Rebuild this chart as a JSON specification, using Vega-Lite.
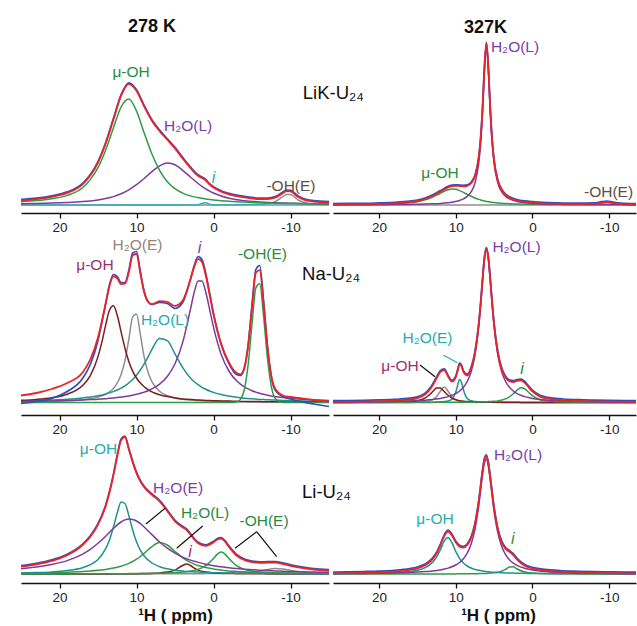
{
"$schema":"https://vega.github.io/schema/vega-lite/v6.json",
"padding":{"left":20,"top":0,"right":0,"bottom":0},
"background":"white",
"bounds":"flush",
"columns":2,
"spacing":{"row":20,"column":4},
"config":{
 "view":{"stroke":null},
 "range":{"category":["#2f9b45","#2f9b45","#7e3b9c","#2fb0c0","#8e8e8e","#1e9290","#7a1e1e","#2a8a40","#7a3fa6","#28a8b8","#5e4d45","#968379","#26adb0","#a12d6d","#111111"]},
 "axis":{"domainColor":"#111","domainWidth":1.5,"tickColor":"#111","tickWidth":1.3,"tickSize":5,"labelFontSize":13.5,"labelColor":"#222","labelFont":"Liberation Sans","labelPadding":2,"grid":false,"titleFont":"Liberation Sans","titleFontSize":17,"titleFontWeight":"bold","titleColor":"#111","titlePadding":4},
 "text":{"font":"Liberation Sans"}
},
"datasets":{
"A":[
{"x":25,"t":4.6,"green":3.3,"purple":1.3,"cyan":0,"gray":0},
{"x":23,"t":5.9,"green":4.4,"purple":1.5,"cyan":0,"gray":0},
{"x":21,"t":8.2,"green":6.3,"purple":1.9,"cyan":0,"gray":0},
{"x":19,"t":12.1,"green":9.6,"purple":2.5,"cyan":0,"gray":0},
{"x":17,"t":20.7,"green":17.3,"purple":3.4,"cyan":0,"gray":0},
{"x":16,"t":29.5,"green":25.4,"purple":4.1,"cyan":0,"gray":0},
{"x":15,"t":42.5,"green":37.4,"purple":5.1,"cyan":0,"gray":0},
{"x":14,"t":61.5,"green":55,"purple":6.5,"cyan":0,"gray":0},
{"x":13,"t":85.4,"green":77,"purple":8.4,"cyan":0,"gray":0},
{"x":12,"t":109.3,"green":98,"purple":11.3,"cyan":0,"gray":0},
{"x":11,"t":121.2,"green":106,"purple":15.2,"cyan":0,"gray":0},
{"x":10,"t":114.3,"green":94,"purple":20.3,"cyan":0,"gray":0},
{"x":9,"t":98.5,"green":72,"purple":26.5,"cyan":0,"gray":0},
{"x":8,"t":84.3,"green":51,"purple":33.3,"cyan":0,"gray":0},
{"x":7,"t":73.9,"green":34.7,"purple":39.2,"cyan":0,"gray":0},
{"x":6,"t":65.3,"green":23.3,"purple":42,"cyan":0,"gray":0},
{"x":5,"t":56.6,"green":16.4,"purple":40.2,"cyan":0,"gray":0},
{"x":4,"t":46.6,"green":11.9,"purple":34.7,"cyan":0,"gray":0},
{"x":3,"t":37.1,"green":9.1,"purple":28,"cyan":0,"gray":0},
{"x":2,"t":29.2,"green":7.4,"purple":21.5,"cyan":0.3,"gray":0},
{"x":1.5,"t":27,"green":6.7,"purple":18.7,"cyan":1.6,"gray":0},
{"x":1,"t":24.5,"green":6,"purple":16.2,"cyan":2.3,"gray":0},
{"x":0.5,"t":20.3,"green":5.5,"purple":13.9,"cyan":0.8,"gray":0.1},
{"x":0,"t":17.4,"green":5.1,"purple":12,"cyan":0.2,"gray":0.1},
{"x":-1,"t":13.3,"green":4.3,"purple":9,"cyan":0,"gray":0.1},
{"x":-2,"t":10.7,"green":3.7,"purple":6.8,"cyan":0,"gray":0.2},
{"x":-4,"t":7.6,"green":2.9,"purple":4.3,"cyan":0,"gray":0.4},
{"x":-6,"t":5.9,"green":2.2,"purple":3,"cyan":0,"gray":0.7},
{"x":-7,"t":6,"green":2,"purple":2.6,"cyan":0,"gray":1.4},
{"x":-8,"t":7.4,"green":1.8,"purple":2.2,"cyan":0,"gray":3.4},
{"x":-9,"t":11.9,"green":1.6,"purple":2,"cyan":0,"gray":8.3},
{"x":-9.5,"t":14,"green":1.6,"purple":1.9,"cyan":0,"gray":10.6},
{"x":-10,"t":13.6,"green":1.5,"purple":1.7,"cyan":0,"gray":10.4},
{"x":-11,"t":8,"green":1.4,"purple":1.6,"cyan":0,"gray":5},
{"x":-12,"t":4.6,"green":1.3,"purple":1.4,"cyan":0,"gray":1.9},
{"x":-13,"t":3.4,"green":1.2,"purple":1.3,"cyan":0,"gray":0.9},
{"x":-15,"t":2.4,"green":1,"purple":1,"cyan":0,"gray":0.4}
],
"B":[
{"x":26,"t":0.4,"green":0.3,"purple":0.1,"gray":0},
{"x":24,"t":0.6,"green":0.4,"purple":0.2,"gray":0},
{"x":22,"t":0.7,"green":0.5,"purple":0.2,"gray":0},
{"x":20,"t":1.1,"green":0.8,"purple":0.3,"gray":0},
{"x":18,"t":1.6,"green":1.2,"purple":0.4,"gray":0},
{"x":16,"t":2.8,"green":2.2,"purple":0.6,"gray":0},
{"x":15,"t":4,"green":3.3,"purple":0.7,"gray":0},
{"x":14,"t":6,"green":5.1,"purple":0.9,"gray":0},
{"x":13,"t":9.2,"green":8,"purple":1.2,"gray":0},
{"x":12,"t":13.4,"green":11.8,"purple":1.6,"gray":0},
{"x":11,"t":17.6,"green":15.3,"purple":2.3,"gray":0},
{"x":10.5,"t":18.8,"green":16,"purple":2.8,"gray":0},
{"x":10,"t":19.2,"green":15.7,"purple":3.5,"gray":0},
{"x":9.5,"t":18.9,"green":14.4,"purple":4.5,"gray":0},
{"x":9,"t":18.7,"green":12.6,"purple":6.1,"gray":0},
{"x":8.5,"t":19.2,"green":10.6,"purple":8.6,"gray":0},
{"x":8,"t":21.8,"green":8.7,"purple":13.1,"gray":0},
{"x":7.5,"t":28.8,"green":7,"purple":21.8,"gray":0},
{"x":7,"t":47.4,"green":5.6,"purple":41.8,"gray":0},
{"x":6.75,"t":66.7,"green":5,"purple":61.7,"gray":0},
{"x":6.5,"t":97.7,"green":4.5,"purple":93.2,"gray":0},
{"x":6.25,"t":138.6,"green":4,"purple":134.6,"gray":0},
{"x":6,"t":161.6,"green":3.6,"purple":158,"gray":0},
{"x":5.75,"t":137.8,"green":3.2,"purple":134.6,"gray":0},
{"x":5.5,"t":96.1,"green":2.9,"purple":93.2,"gray":0},
{"x":5.25,"t":64.3,"green":2.6,"purple":61.7,"gray":0},
{"x":5,"t":44.2,"green":2.4,"purple":41.8,"gray":0},
{"x":4.5,"t":23.8,"green":2,"purple":21.8,"gray":0},
{"x":4,"t":14.8,"green":1.7,"purple":13.1,"gray":0},
{"x":3.5,"t":10,"green":1.4,"purple":8.6,"gray":0},
{"x":3,"t":7.3,"green":1.2,"purple":6.1,"gray":0},
{"x":2,"t":4.5,"green":1,"purple":3.5,"gray":0},
{"x":1,"t":3.1,"green":0.8,"purple":2.3,"gray":0},
{"x":0,"t":2.3,"green":0.7,"purple":1.6,"gray":0},
{"x":-2,"t":1.4,"green":0.5,"purple":0.9,"gray":0},
{"x":-4,"t":0.9,"green":0.4,"purple":0.6,"gray":0},
{"x":-6,"t":0.8,"green":0.3,"purple":0.4,"gray":0.15},
{"x":-8,"t":1.1,"green":0.2,"purple":0.3,"gray":0.6},
{"x":-9,"t":2.3,"green":0.2,"purple":0.3,"gray":1.8},
{"x":-9.7,"t":2.9,"green":0.2,"purple":0.2,"gray":2.5},
{"x":-10.5,"t":2,"green":0.2,"purple":0.2,"gray":1.6},
{"x":-12,"t":0.7,"green":0.2,"purple":0.2,"gray":0.4},
{"x":-14,"t":0.3,"green":0.1,"purple":0.1,"gray":0}
],
"C":[
{"x":25,"t":7,"b":-1,"maroon":2.2,"gray":0.6,"teal":1.5,"purple":1.1,"green":0},
{"x":23,"t":9.5,"b":1,"maroon":3.1,"gray":0.8,"teal":1.9,"purple":1.3,"green":0},
{"x":21,"t":13.5,"b":4,"maroon":4.8,"gray":1.1,"teal":2.5,"purple":1.6,"green":0},
{"x":19,"t":19.5,"b":11,"maroon":8.3,"gray":1.7,"teal":3.3,"purple":2,"green":0},
{"x":17,"t":30,"b":24,"maroon":17,"gray":2.8,"teal":4.6,"purple":2.5,"green":0},
{"x":16,"t":43,"b":38,"maroon":26.9,"gray":3.7,"teal":5.5,"purple":2.9,"green":0},
{"x":15,"t":65,"b":62,"maroon":45.9,"gray":5.4,"teal":6.8,"purple":3.3,"green":0},
{"x":14.5,"t":81,"b":80,"maroon":60.4,"gray":6.6,"teal":7.6,"purple":3.6,"green":0},
{"x":14,"t":99,"b":99,"maroon":77.6,"gray":8.3,"teal":8.5,"purple":3.8,"green":0},
{"x":13.5,"t":117,"b":118,"maroon":92.5,"gray":10.6,"teal":9.6,"purple":4.2,"green":0},
{"x":13,"t":126.2,"b":128,"maroon":96.7,"gray":14.1,"teal":10.9,"purple":4.5,"green":0},
{"x":12.5,"t":124.2,"b":126,"maroon":87.3,"gray":19.5,"teal":12.5,"purple":4.9,"green":0},
{"x":12,"t":118.4,"b":120,"maroon":70.6,"gray":28,"teal":14.4,"purple":5.4,"green":0},
{"x":11.5,"t":118.8,"b":120,"maroon":54.2,"gray":41.9,"teal":16.7,"purple":6,"green":0},
{"x":11,"t":130.2,"b":132,"maroon":41.1,"gray":63,"teal":19.5,"purple":6.6,"green":0},
{"x":10.5,"t":147.3,"b":149.5,"maroon":31.4,"gray":85.6,"teal":23,"purple":7.3,"green":0},
{"x":10,"t":148.5,"b":151,"maroon":24.5,"gray":88.5,"teal":27.3,"purple":8.2,"green":0},
{"x":9.5,"t":129,"b":131,"maroon":19.4,"gray":67.9,"teal":32.5,"purple":9.2,"green":0},
{"x":9,"t":110.3,"b":111,"maroon":15.7,"gray":45.5,"teal":38.7,"purple":10.4,"green":0},
{"x":8.5,"t":100.7,"b":101,"maroon":12.9,"gray":30.3,"teal":45.7,"purple":11.8,"green":0},
{"x":8,"t":98.3,"b":98,"maroon":10.7,"gray":20.9,"teal":53.1,"purple":13.6,"green":0},
{"x":7,"t":101.4,"b":100,"maroon":7.8,"gray":11.2,"teal":64,"purple":18.4,"green":0},
{"x":6,"t":100.6,"b":99,"maroon":5.9,"gray":6.9,"teal":61.8,"purple":26,"green":0},
{"x":5,"t":96.6,"b":94,"maroon":4.6,"gray":4.6,"teal":48.7,"purple":38.7,"green":0},
{"x":4,"t":101.9,"b":100,"maroon":3.6,"gray":3.3,"teal":34.9,"purple":60.1,"green":0},
{"x":3,"t":123.1,"b":123,"maroon":3,"gray":2.5,"teal":24.6,"purple":93,"green":0},
{"x":2.5,"t":135.9,"b":137,"maroon":2.7,"gray":2.2,"teal":20.8,"purple":110.2,"green":0},
{"x":2,"t":143.6,"b":146,"maroon":2.5,"gray":1.9,"teal":17.8,"purple":121.4,"green":0},
{"x":1.5,"t":140.6,"b":143,"maroon":2.3,"gray":1.7,"teal":15.2,"purple":121.4,"green":0},
{"x":1,"t":127,"b":129,"maroon":2.1,"gray":1.5,"teal":13.2,"purple":110.2,"green":0},
{"x":0.5,"t":107.8,"b":109,"maroon":1.9,"gray":1.4,"teal":11.5,"purple":93,"green":0},
{"x":0,"t":88.4,"b":89,"maroon":1.8,"gray":1.2,"teal":10.1,"purple":75.3,"green":0},
{"x":-1,"t":58.5,"b":58,"maroon":1.6,"gray":1,"teal":7.9,"purple":48,"green":0},
{"x":-2,"t":40.1,"b":39,"maroon":1.4,"gray":0.9,"teal":6.4,"purple":31.5,"green":0},
{"x":-3,"t":29.4,"b":28,"maroon":1.2,"gray":0.8,"teal":5.2,"purple":21.7,"green":0.5},
{"x":-3.5,"t":28.1,"b":27,"maroon":1.1,"gray":0.7,"teal":4.8,"purple":18.4,"green":3.1},
{"x":-4,"t":34.7,"b":34,"maroon":1.1,"gray":0.7,"teal":4.3,"purple":15.7,"green":12.9},
{"x":-4.5,"t":57,"b":57,"maroon":1,"gray":0.6,"teal":4,"purple":13.6,"green":37.8},
{"x":-5,"t":95.3,"b":97,"maroon":1,"gray":0.6,"teal":3.7,"purple":11.8,"green":78.3},
{"x":-5.5,"t":129.8,"b":133,"maroon":0.9,"gray":0.5,"teal":3.4,"purple":10.4,"green":114.6},
{"x":-6,"t":132.4,"b":137,"maroon":0.9,"gray":0.5,"teal":3.1,"purple":9.2,"green":118.7},
{"x":-6.5,"t":99.2,"b":102,"maroon":0.8,"gray":0.5,"teal":2.9,"purple":8.2,"green":86.8},
{"x":-7,"t":56.2,"b":57,"maroon":0.8,"gray":0.4,"teal":2.7,"purple":7.3,"green":45},
{"x":-7.5,"t":26.8,"b":26,"maroon":0.7,"gray":0.4,"teal":2.5,"purple":6.6,"green":16.5},
{"x":-8,"t":13.7,"b":12.5,"maroon":0.7,"gray":0.4,"teal":2.4,"purple":6,"green":4.3},
{"x":-9,"t":7,"b":6,"maroon":0.6,"gray":0.4,"teal":2.1,"purple":4.9,"green":0.1},
{"x":-10,"t":5.5,"b":3.5,"maroon":0.6,"gray":0.3,"teal":1.9,"purple":4.2,"green":0},
{"x":-11,"t":4.5,"b":1.5,"maroon":0.5,"gray":0.3,"teal":1.7,"purple":3.6,"green":0},
{"x":-13,"t":2.5,"b":-1.5,"maroon":0.5,"gray":0.2,"teal":1.3,"purple":2.7,"green":0},
{"x":-15,"t":1,"b":-4,"maroon":0.4,"gray":0.2,"teal":1.1,"purple":2.1,"green":0}
],
"D":[
{"x":26,"t":0.6,"purple":0.4,"teal":0,"gray":0.1,"maroon":0.1,"green":0},
{"x":24,"t":0.7,"purple":0.5,"teal":0,"gray":0.1,"maroon":0.1,"green":0},
{"x":22,"t":0.9,"purple":0.6,"teal":0.1,"gray":0.1,"maroon":0.2,"green":0},
{"x":20,"t":1.3,"purple":0.8,"teal":0.1,"gray":0.1,"maroon":0.3,"green":0.1},
{"x":18,"t":1.8,"purple":1.1,"teal":0.1,"gray":0.2,"maroon":0.4,"green":0.1},
{"x":16,"t":3,"purple":1.5,"teal":0.1,"gray":0.3,"maroon":1,"green":0.1},
{"x":15,"t":4.4,"purple":1.9,"teal":0.2,"gray":0.5,"maroon":1.8,"green":0.1},
{"x":14,"t":8,"purple":2.3,"teal":0.2,"gray":1,"maroon":4.4,"green":0.1},
{"x":13.5,"t":11.8,"purple":2.7,"teal":0.3,"gray":1.6,"maroon":7.2,"green":0.1},
{"x":13,"t":17.3,"purple":3,"teal":0.3,"gray":2.8,"maroon":11,"green":0.1},
{"x":12.5,"t":24.3,"purple":3.5,"teal":0.4,"gray":5.8,"maroon":14.4,"green":0.2},
{"x":12,"t":30.6,"purple":4.1,"teal":0.6,"gray":11.3,"maroon":14.4,"green":0.2},
{"x":11.5,"t":32.4,"purple":4.9,"teal":0.9,"gray":15.5,"maroon":11,"green":0.2},
{"x":11,"t":26,"purple":5.9,"teal":1.5,"gray":11.3,"maroon":7.2,"green":0.2},
{"x":10.5,"t":20.8,"purple":7.2,"teal":3.3,"gray":5.8,"maroon":4.4,"green":0.2},
{"x":10,"t":25,"purple":8.9,"teal":10.3,"gray":2.8,"maroon":2.7,"green":0.2},
{"x":9.75,"t":31.8,"purple":10.1,"teal":17.2,"gray":2,"maroon":2.2,"green":0.3},
{"x":9.5,"t":38.1,"purple":11.5,"teal":23,"gray":1.6,"maroon":1.8,"green":0.3},
{"x":9.25,"t":36.3,"purple":13.2,"teal":20.1,"gray":1.2,"maroon":1.5,"green":0.3},
{"x":9,"t":30.6,"purple":15.2,"teal":12.8,"gray":1,"maroon":1.3,"green":0.3},
{"x":8.5,"t":27,"purple":21,"teal":4,"gray":0.7,"maroon":1,"green":0.3},
{"x":8,"t":33.8,"purple":30.4,"teal":1.7,"gray":0.5,"maroon":0.8,"green":0.4},
{"x":7.5,"t":49.3,"purple":46.8,"teal":1,"gray":0.4,"maroon":0.6,"green":0.5},
{"x":7,"t":78,"purple":76,"teal":0.6,"gray":0.3,"maroon":0.5,"green":0.5},
{"x":6.75,"t":99.2,"purple":97.3,"teal":0.6,"gray":0.3,"maroon":0.5,"green":0.6},
{"x":6.5,"t":123.4,"purple":121.6,"teal":0.5,"gray":0.3,"maroon":0.5,"green":0.7},
{"x":6.25,"t":144.9,"purple":143.1,"teal":0.4,"gray":0.2,"maroon":0.4,"green":0.7},
{"x":6,"t":153.7,"purple":152,"teal":0.3,"gray":0.2,"maroon":0.4,"green":0.8},
{"x":5.75,"t":144.8,"purple":143.1,"teal":0.3,"gray":0.2,"maroon":0.4,"green":0.9},
{"x":5.5,"t":123.3,"purple":121.6,"teal":0.3,"gray":0.2,"maroon":0.3,"green":1},
{"x":5.25,"t":99.1,"purple":97.3,"teal":0.2,"gray":0.2,"maroon":0.3,"green":1.1},
{"x":5,"t":77.9,"purple":76,"teal":0.2,"gray":0.2,"maroon":0.3,"green":1.2},
{"x":4.5,"t":49,"purple":46.8,"teal":0.2,"gray":0.1,"maroon":0.3,"green":1.6},
{"x":4,"t":33.2,"purple":30.4,"teal":0.1,"gray":0.1,"maroon":0.2,"green":2.4},
{"x":3.5,"t":25,"purple":21,"teal":0.1,"gray":0.1,"maroon":0.2,"green":3.6},
{"x":3,"t":21.3,"purple":15.2,"teal":0.1,"gray":0.1,"maroon":0.2,"green":5.7},
{"x":2.5,"t":20.5,"purple":11.5,"teal":0.1,"gray":0.1,"maroon":0.2,"green":8.7},
{"x":2,"t":21.6,"purple":8.9,"teal":0.1,"gray":0.1,"maroon":0.2,"green":12.4},
{"x":1.5,"t":22.1,"purple":7.2,"teal":0.1,"gray":0.1,"maroon":0.1,"green":14.7},
{"x":1,"t":19.7,"purple":5.9,"teal":0.1,"gray":0.1,"maroon":0.1,"green":13.6},
{"x":0.5,"t":15.3,"purple":4.9,"teal":0.1,"gray":0.1,"maroon":0.1,"green":10.2},
{"x":0,"t":11.1,"purple":4.1,"teal":0.1,"gray":0.1,"maroon":0.1,"green":6.8},
{"x":-1,"t":5.9,"purple":3,"teal":0,"gray":0,"maroon":0.1,"green":2.7},
{"x":-2,"t":3.9,"purple":2.3,"teal":0,"gray":0,"maroon":0.1,"green":1.4},
{"x":-3,"t":2.8,"purple":1.9,"teal":0,"gray":0,"maroon":0.1,"green":0.8},
{"x":-4,"t":2.2,"purple":1.5,"teal":0,"gray":0,"maroon":0.1,"green":0.6},
{"x":-6,"t":1.5,"purple":1.1,"teal":0,"gray":0,"maroon":0.1,"green":0.3},
{"x":-8,"t":1.1,"purple":0.8,"teal":0,"gray":0,"maroon":0.1,"green":0.2},
{"x":-10,"t":0.8,"purple":0.6,"teal":0,"gray":0,"maroon":0,"green":0.1},
{"x":-12,"t":0.6,"purple":0.5,"teal":0,"gray":0,"maroon":0,"green":0.1},
{"x":-14,"t":0.5,"purple":0.4,"teal":0,"gray":0,"maroon":0,"green":0.1}
],
"E":[
{"x":25,"t":7.3,"teal":1.1,"purple":5.3,"green":0.8,"maroon":0,"green2":0.1,"gray":0},
{"x":23,"t":9.6,"teal":1.5,"purple":6.9,"green":1,"maroon":0,"green2":0.1,"gray":0},
{"x":21,"t":13.1,"teal":2.1,"purple":9.5,"green":1.3,"maroon":0.1,"green2":0.1,"gray":0},
{"x":19,"t":18.8,"teal":3.4,"purple":13.4,"green":1.8,"maroon":0.1,"green2":0.1,"gray":0.1},
{"x":17,"t":29,"teal":6.3,"purple":19.9,"green":2.5,"maroon":0.1,"green2":0.2,"gray":0.1},
{"x":16,"t":37.3,"teal":9.3,"purple":24.7,"green":3,"maroon":0.1,"green2":0.2,"gray":0.1},
{"x":15,"t":49.3,"teal":14.6,"purple":30.7,"green":3.7,"maroon":0.1,"green2":0.2,"gray":0.1},
{"x":14,"t":68.1,"teal":25.3,"purple":37.8,"green":4.6,"maroon":0.1,"green2":0.2,"gray":0.1},
{"x":13.5,"t":81.7,"teal":34.3,"purple":41.7,"green":5.2,"maroon":0.1,"green2":0.2,"gray":0.1},
{"x":13,"t":98.6,"teal":46.7,"purple":45.5,"green":5.9,"maroon":0.2,"green2":0.3,"gray":0.1},
{"x":12.5,"t":117.7,"teal":61.3,"purple":49.1,"green":6.8,"maroon":0.2,"green2":0.3,"gray":0.1},
{"x":12,"t":134,"teal":71.9,"purple":52,"green":7.8,"maroon":0.2,"green2":0.3,"gray":0.1},
{"x":11.5,"t":137,"teal":70.5,"purple":54.1,"green":9.1,"maroon":0.2,"green2":0.3,"gray":0.1},
{"x":11,"t":124.7,"teal":58.4,"purple":55,"green":10.6,"maroon":0.3,"green2":0.4,"gray":0.1},
{"x":10.5,"t":111.9,"teal":44,"purple":54.6,"green":12.5,"maroon":0.3,"green2":0.4,"gray":0.1},
{"x":10,"t":100.9,"teal":32.2,"purple":53,"green":14.8,"maroon":0.3,"green2":0.4,"gray":0.1},
{"x":9.5,"t":92.6,"teal":23.8,"purple":50.3,"green":17.5,"maroon":0.4,"green2":0.5,"gray":0.1},
{"x":9,"t":86.7,"teal":18,"purple":47,"green":20.6,"maroon":0.5,"green2":0.5,"gray":0.1},
{"x":8,"t":79.2,"teal":11,"purple":39.4,"green":27.4,"maroon":0.7,"green2":0.6,"gray":0.1},
{"x":7,"t":72.7,"teal":7.3,"purple":32,"green":31.4,"maroon":1.1,"green2":0.8,"gray":0.2},
{"x":6,"t":63,"teal":5.2,"purple":25.8,"green":29,"maroon":1.9,"green2":1,"gray":0.2},
{"x":5,"t":52.6,"teal":3.8,"purple":20.8,"green":22.5,"maroon":3.9,"green2":1.4,"gray":0.2},
{"x":4,"t":46.7,"teal":3,"purple":16.9,"green":16.2,"maroon":8.5,"green2":1.9,"gray":0.2},
{"x":3.5,"t":44.2,"teal":2.6,"purple":15.3,"green":13.7,"maroon":10,"green2":2.3,"gray":0.2},
{"x":3,"t":39.5,"teal":2.3,"purple":13.9,"green":11.6,"maroon":8.5,"green2":2.9,"gray":0.3},
{"x":2.5,"t":34.5,"teal":2.1,"purple":12.7,"green":9.9,"maroon":5.9,"green2":3.6,"gray":0.3},
{"x":2,"t":30.8,"teal":1.9,"purple":11.6,"green":8.5,"maroon":3.9,"green2":4.6,"gray":0.3},
{"x":1,"t":28.2,"teal":1.6,"purple":9.8,"green":6.4,"maroon":1.9,"green2":8.3,"gray":0.4},
{"x":0,"t":31.6,"teal":1.3,"purple":8.3,"green":4.9,"maroon":1.1,"green2":15.5,"gray":0.5},
{"x":-0.5,"t":34.5,"teal":1.2,"purple":7.7,"green":4.4,"maroon":0.8,"green2":19.9,"gray":0.5},
{"x":-1,"t":35.4,"teal":1.1,"purple":7.2,"green":3.9,"maroon":0.7,"green2":22,"gray":0.6},
{"x":-1.5,"t":32.3,"teal":1,"purple":6.7,"green":3.5,"maroon":0.5,"green2":19.9,"gray":0.7},
{"x":-2,"t":27.1,"teal":1,"purple":6.2,"green":3.1,"maroon":0.5,"green2":15.5,"gray":0.8},
{"x":-3,"t":18.5,"teal":0.8,"purple":5.4,"green":2.6,"maroon":0.3,"green2":8.3,"gray":1},
{"x":-4,"t":14,"teal":0.7,"purple":4.8,"green":2.2,"maroon":0.3,"green2":4.6,"gray":1.4},
{"x":-5,"t":11.9,"teal":0.7,"purple":4.3,"green":1.8,"maroon":0.2,"green2":2.9,"gray":2.1},
{"x":-6,"t":11.1,"teal":0.6,"purple":3.8,"green":1.6,"maroon":0.2,"green2":1.9,"gray":3.1},
{"x":-7,"t":11.3,"teal":0.5,"purple":3.4,"green":1.4,"maroon":0.1,"green2":1.4,"gray":4.5},
{"x":-8,"t":11.4,"teal":0.5,"purple":3.1,"green":1.2,"maroon":0.1,"green2":1,"gray":5.5},
{"x":-9,"t":10.2,"teal":0.4,"purple":2.8,"green":1.1,"maroon":0.1,"green2":0.8,"gray":5},
{"x":-10,"t":8.2,"teal":0.4,"purple":2.5,"green":0.9,"maroon":0.1,"green2":0.6,"gray":3.6},
{"x":-11,"t":6.6,"teal":0.4,"purple":2.3,"green":0.8,"maroon":0.1,"green2":0.5,"gray":2.4},
{"x":-12,"t":5.4,"teal":0.3,"purple":2.1,"green":0.8,"maroon":0.1,"green2":0.4,"gray":1.7},
{"x":-13,"t":4.5,"teal":0.3,"purple":2,"green":0.7,"maroon":0.1,"green2":0.4,"gray":1.2},
{"x":-15,"t":3.5,"teal":0.3,"purple":1.7,"green":0.6,"maroon":0,"green2":0.3,"gray":0.7}
],
"F":[
{"x":26,"t":0.7,"purple":0.4,"teal":0.3,"green":0},
{"x":24,"t":0.9,"purple":0.5,"teal":0.4,"green":0},
{"x":22,"t":1.2,"purple":0.6,"teal":0.6,"green":0},
{"x":20,"t":1.6,"purple":0.8,"teal":0.8,"green":0},
{"x":18,"t":2.4,"purple":1.1,"teal":1.3,"green":0},
{"x":16,"t":4.1,"purple":1.5,"teal":2.5,"green":0},
{"x":15,"t":5.7,"purple":1.9,"teal":3.8,"green":0.1},
{"x":14,"t":8.7,"purple":2.4,"teal":6.3,"green":0.1},
{"x":13,"t":14.9,"purple":3.1,"teal":11.8,"green":0.1},
{"x":12.5,"t":20.5,"purple":3.5,"teal":16.9,"green":0.1},
{"x":12,"t":28.6,"purple":4.1,"teal":24.4,"green":0.1},
{"x":11.5,"t":37.9,"purple":4.9,"teal":32.9,"green":0.1},
{"x":11,"t":42.5,"purple":5.9,"teal":36.5,"green":0.1},
{"x":10.5,"t":38.6,"purple":7.2,"teal":31.3,"green":0.1},
{"x":10,"t":31.8,"purple":9,"teal":22.7,"green":0.1},
{"x":9.5,"t":27.4,"purple":11.5,"teal":15.7,"green":0.2},
{"x":9,"t":26.4,"purple":15.2,"teal":11,"green":0.2},
{"x":8.5,"t":29,"purple":20.8,"teal":8,"green":0.2},
{"x":8,"t":35.9,"purple":29.7,"teal":6,"green":0.3},
{"x":7.5,"t":49.3,"purple":44.4,"teal":4.6,"green":0.3},
{"x":7,"t":72.4,"purple":68.4,"teal":3.7,"green":0.4},
{"x":6.5,"t":103.1,"purple":99.7,"teal":3,"green":0.5},
{"x":6.25,"t":114.8,"purple":111.6,"teal":2.7,"green":0.6},
{"x":6,"t":117.9,"purple":114.8,"teal":2.4,"green":0.6},
{"x":5.75,"t":110.6,"purple":107.7,"teal":2.2,"green":0.7},
{"x":5.5,"t":96.5,"purple":93.6,"teal":2,"green":0.9},
{"x":5,"t":65.6,"purple":62.7,"teal":1.7,"green":1.2},
{"x":4.5,"t":44.1,"purple":40.8,"teal":1.5,"green":1.8},
{"x":4,"t":31.6,"purple":27.5,"teal":1.3,"green":2.8},
{"x":3.5,"t":25.1,"purple":19.4,"teal":1.1,"green":4.6},
{"x":3,"t":22.2,"purple":14.3,"teal":1,"green":6.9},
{"x":2.5,"t":19,"purple":10.9,"teal":0.9,"green":7.2},
{"x":2,"t":14.4,"purple":8.6,"teal":0.8,"green":5},
{"x":1,"t":8.3,"purple":5.7,"teal":0.7,"green":1.9},
{"x":0,"t":5.4,"purple":4,"teal":0.5,"green":0.9},
{"x":-2,"t":3,"purple":2.3,"teal":0.4,"green":0.3},
{"x":-4,"t":1.9,"purple":1.5,"teal":0.3,"green":0.2},
{"x":-6,"t":1.4,"purple":1,"teal":0.2,"green":0.1},
{"x":-8,"t":1,"purple":0.8,"teal":0.2,"green":0.1},
{"x":-10,"t":0.8,"purple":0.6,"teal":0.2,"green":0},
{"x":-12,"t":0.6,"purple":0.5,"teal":0.1,"green":0},
{"x":-14,"t":0.5,"purple":0.4,"teal":0.1,"green":0}
]
},
"concat":[
{"width":308,"height":213,"data":{"name":"A"},
 "encoding":{"x":{"field":"x","type":"quantitative","scale":{"domain":[25,-15],"nice":false,"zero":false},"axis":{"values":[20,10,0,-10],"labelExpr":"''+datum.value","title":null}}},
 "layer":[
  {"mark":{"type":"rule","color":"#a5a5a5","strokeWidth":1},"encoding":{"y":{"datum":0,"type":"quantitative","scale":{"domain":[-8,205]},"axis":null}}},
  {"transform":[{"fold":["gray","cyan","purple","green"],"as":["s","v"]},{"filter":"isValid(datum.v)"}],"mark":{"type":"line","interpolate":"monotone","clip":true,"strokeWidth":1.5},"encoding":{"y":{"field":"v","type":"quantitative","scale":{"domain":[-8,205]},"axis":null},"color":{"field":"s","type":"nominal","scale":{"domain":["green","green2","purple","cyan","gray","teal","maroon","tGreen","tPurple","tCyan","tBrown","tTan","tTeal","tMagenta","black"]},"legend":null}}},
  {"mark":{"type":"line","interpolate":"monotone","clip":true,"strokeWidth":1.7,"color":"#2e4fbf","yOffset":-1},"encoding":{"y":{"field":"t","type":"quantitative","scale":{"domain":[-8,205]},"axis":null}}},
  {"mark":{"type":"line","interpolate":"monotone","clip":true,"strokeWidth":1.8,"color":"#ec2227"},"encoding":{"y":{"field":"t","type":"quantitative","scale":{"domain":[-8,205]},"axis":null}}},
  {"data":{"values":[{"x":10.7,"y":133,"t":"μ-OH","c":"tGreen"},{"x":3.3,"y":79,"t":"H₂O(L)","c":"tPurple"},{"x":-10.06,"y":19,"t":"-OH(E)","c":"tBrown"}]},"mark":{"type":"text","fontSize":15.5},"encoding":{"y":{"field":"y","type":"quantitative","scale":{"domain":[-8,205]},"axis":null},"text":{"field":"t"},"color":{"field":"c","type":"nominal","scale":{"domain":["green","green2","purple","cyan","gray","teal","maroon","tGreen","tPurple","tCyan","tBrown","tTan","tTeal","tMagenta","black"]},"legend":null}}},
  {"data":{"values":[{"x":0,"y":27,"t":"i","c":"tCyan"}]},"mark":{"type":"text","fontSize":16,"fontStyle":"italic"},"encoding":{"y":{"field":"y","type":"quantitative","scale":{"domain":[-8,205]},"axis":null},"text":{"field":"t"},"color":{"field":"c","type":"nominal","scale":{"domain":["green","green2","purple","cyan","gray","teal","maroon","tGreen","tPurple","tCyan","tBrown","tTan","tTeal","tMagenta","black"]},"legend":null}}},
  {"data":{"values":[{"x":8,"y":178,"t":"278 K"}]},"mark":{"type":"text","fontSize":18,"fontWeight":"bold","color":"#111"},"encoding":{"y":{"field":"y","type":"quantitative","scale":{"domain":[-8,205]},"axis":null},"text":{"field":"t"}}},
  {"data":{"values":[{"x":-11.6,"y":112,"t":"LiK-U₂₄"}]},"mark":{"type":"text","fontSize":18.5,"align":"left","color":"#111"},"encoding":{"y":{"field":"y","type":"quantitative","scale":{"domain":[-8,205]},"axis":null},"text":{"field":"t"}}}
 ]},
{"width":303,"height":213,"data":{"name":"B"},
 "encoding":{"x":{"field":"x","type":"quantitative","scale":{"domain":[26,-13.5],"nice":false,"zero":false},"axis":{"values":[20,10,0,-10],"labelExpr":"''+datum.value","title":null}}},
 "layer":[
  {"mark":{"type":"rule","color":"#a5a5a5","strokeWidth":1},"encoding":{"y":{"datum":0,"type":"quantitative","scale":{"domain":[-8,205]},"axis":null}}},
  {"transform":[{"fold":["gray","green","purple"],"as":["s","v"]},{"filter":"isValid(datum.v)"}],"mark":{"type":"line","interpolate":"monotone","clip":true,"strokeWidth":1.5},"encoding":{"y":{"field":"v","type":"quantitative","scale":{"domain":[-8,205]},"axis":null},"color":{"field":"s","type":"nominal","scale":{"domain":["green","green2","purple","cyan","gray","teal","maroon","tGreen","tPurple","tCyan","tBrown","tTan","tTeal","tMagenta","black"]},"legend":null}}},
  {"mark":{"type":"line","interpolate":"monotone","clip":true,"strokeWidth":1.7,"color":"#2e4fbf","yOffset":-1},"encoding":{"y":{"field":"t","type":"quantitative","scale":{"domain":[-8,205]},"axis":null}}},
  {"mark":{"type":"line","interpolate":"monotone","clip":true,"strokeWidth":1.8,"color":"#ec2227"},"encoding":{"y":{"field":"t","type":"quantitative","scale":{"domain":[-8,205]},"axis":null}}},
  {"data":{"values":[{"x":2.27,"y":158,"t":"H₂O(L)","c":"tPurple"},{"x":12.05,"y":32,"t":"μ-OH","c":"tGreen"},{"x":-9.92,"y":13,"t":"-OH(E)","c":"tBrown"}]},"mark":{"type":"text","fontSize":15.5},"encoding":{"y":{"field":"y","type":"quantitative","scale":{"domain":[-8,205]},"axis":null},"text":{"field":"t"},"color":{"field":"c","type":"nominal","scale":{"domain":["green","green2","purple","cyan","gray","teal","maroon","tGreen","tPurple","tCyan","tBrown","tTan","tTeal","tMagenta","black"]},"legend":null}}},
  {"data":{"values":[{"x":6.12,"y":177.5,"t":"327K"}]},"mark":{"type":"text","fontSize":18,"fontWeight":"bold","color":"#111"},"encoding":{"y":{"field":"y","type":"quantitative","scale":{"domain":[-8,205]},"axis":null},"text":{"field":"t"}}}
 ]},
{"width":308,"height":182,"data":{"name":"C"},
 "encoding":{"x":{"field":"x","type":"quantitative","scale":{"domain":[25,-15],"nice":false,"zero":false},"axis":{"values":[20,10,0,-10],"labelExpr":"''+datum.value","title":null}}},
 "layer":[
  {"mark":{"type":"rule","color":"#a5a5a5","strokeWidth":1},"encoding":{"y":{"datum":0,"type":"quantitative","scale":{"domain":[-12.5,169.5]},"axis":null}}},
  {"transform":[{"fold":["gray","teal","maroon","purple","green"],"as":["s","v"]},{"filter":"isValid(datum.v)"}],"mark":{"type":"line","interpolate":"monotone","clip":true,"strokeWidth":1.5},"encoding":{"y":{"field":"v","type":"quantitative","scale":{"domain":[-12.5,169.5]},"axis":null},"color":{"field":"s","type":"nominal","scale":{"domain":["green","green2","purple","cyan","gray","teal","maroon","tGreen","tPurple","tCyan","tBrown","tTan","tTeal","tMagenta","black"]},"legend":null}}},
  {"mark":{"type":"line","interpolate":"monotone","clip":true,"strokeWidth":1.7,"color":"#2e4fbf"},"encoding":{"y":{"field":"b","type":"quantitative","scale":{"domain":[-12.5,169.5]},"axis":null}}},
  {"mark":{"type":"line","interpolate":"monotone","clip":true,"strokeWidth":1.8,"color":"#ec2227"},"encoding":{"y":{"field":"t","type":"quantitative","scale":{"domain":[-12.5,169.5]},"axis":null}}},
  {"data":{"values":[{"x":15.4,"y":137.5,"t":"μ-OH","c":"tMagenta"},{"x":9.87,"y":157.5,"t":"H₂O(E)","c":"tTan"},{"x":-6.36,"y":148.5,"t":"-OH(E)","c":"tGreen"},{"x":6.3,"y":82.5,"t":"H₂O(L)","c":"tTeal"}]},"mark":{"type":"text","fontSize":15.5},"encoding":{"y":{"field":"y","type":"quantitative","scale":{"domain":[-12.5,169.5]},"axis":null},"text":{"field":"t"},"color":{"field":"c","type":"nominal","scale":{"domain":["green","green2","purple","cyan","gray","teal","maroon","tGreen","tPurple","tCyan","tBrown","tTan","tTeal","tMagenta","black"]},"legend":null}}},
  {"data":{"values":[{"x":1.82,"y":154.5,"t":"i","c":"tPurple"}]},"mark":{"type":"text","fontSize":16,"fontStyle":"italic"},"encoding":{"y":{"field":"y","type":"quantitative","scale":{"domain":[-12.5,169.5]},"axis":null},"text":{"field":"t"},"color":{"field":"c","type":"nominal","scale":{"domain":["green","green2","purple","cyan","gray","teal","maroon","tGreen","tPurple","tCyan","tBrown","tTan","tTeal","tMagenta","black"]},"legend":null}}},
  {"data":{"values":[{"x":-11.5,"y":128.5,"t":"Na-U₂₄"}]},"mark":{"type":"text","fontSize":18.5,"align":"left","color":"#111"},"encoding":{"y":{"field":"y","type":"quantitative","scale":{"domain":[-12.5,169.5]},"axis":null},"text":{"field":"t"}}}
 ]},
{"width":303,"height":182,"data":{"name":"D"},
 "encoding":{"x":{"field":"x","type":"quantitative","scale":{"domain":[26,-13.5],"nice":false,"zero":false},"axis":{"values":[20,10,0,-10],"labelExpr":"''+datum.value","title":null}}},
 "layer":[
  {"mark":{"type":"rule","color":"#a5a5a5","strokeWidth":1},"encoding":{"y":{"datum":0,"type":"quantitative","scale":{"domain":[-12.5,169.5]},"axis":null}}},
  {"transform":[{"fold":["gray","teal","maroon","green","purple"],"as":["s","v"]},{"filter":"isValid(datum.v)"}],"mark":{"type":"line","interpolate":"monotone","clip":true,"strokeWidth":1.5},"encoding":{"y":{"field":"v","type":"quantitative","scale":{"domain":[-12.5,169.5]},"axis":null},"color":{"field":"s","type":"nominal","scale":{"domain":["green","green2","purple","cyan","gray","teal","maroon","tGreen","tPurple","tCyan","tBrown","tTan","tTeal","tMagenta","black"]},"legend":null}}},
  {"mark":{"type":"line","interpolate":"monotone","clip":true,"strokeWidth":1.7,"color":"#2e4fbf","yOffset":-1.3},"encoding":{"y":{"field":"t","type":"quantitative","scale":{"domain":[-12.5,169.5]},"axis":null}}},
  {"mark":{"type":"line","interpolate":"monotone","clip":true,"strokeWidth":1.8,"color":"#ec2227"},"encoding":{"y":{"field":"t","type":"quantitative","scale":{"domain":[-12.5,169.5]},"axis":null}}},
  {"data":{"values":[{"x":14.66,"y":37.5,"x2":12.7,"y2":25.8,"c":"black"},{"x":11.62,"y":47.5,"x2":9.8,"y2":39.8,"c":"tTeal"}]},"mark":{"type":"rule","strokeWidth":1.2},"encoding":{"y":{"field":"y","type":"quantitative","scale":{"domain":[-12.5,169.5]},"axis":null},"x2":{"field":"x2"},"y2":{"field":"y2"},"color":{"field":"c","type":"nominal","scale":{"domain":["green","green2","purple","cyan","gray","teal","maroon","tGreen","tPurple","tCyan","tBrown","tTan","tTeal","tMagenta","black"]},"legend":null}}},
  {"data":{"values":[{"x":2.08,"y":155.5,"t":"H₂O(L)","c":"tPurple"},{"x":13.68,"y":64.5,"t":"H₂O(E)","c":"tTeal"},{"x":17.26,"y":36.5,"t":"μ-OH","c":"tMagenta"}]},"mark":{"type":"text","fontSize":15.5},"encoding":{"y":{"field":"y","type":"quantitative","scale":{"domain":[-12.5,169.5]},"axis":null},"text":{"field":"t"},"color":{"field":"c","type":"nominal","scale":{"domain":["green","green2","purple","cyan","gray","teal","maroon","tGreen","tPurple","tCyan","tBrown","tTan","tTeal","tMagenta","black"]},"legend":null}}},
  {"data":{"values":[{"x":1.36,"y":33.5,"t":"i","c":"tGreen"}]},"mark":{"type":"text","fontSize":16,"fontStyle":"italic"},"encoding":{"y":{"field":"y","type":"quantitative","scale":{"domain":[-12.5,169.5]},"axis":null},"text":{"field":"t"},"color":{"field":"c","type":"nominal","scale":{"domain":["green","green2","purple","cyan","gray","teal","maroon","tGreen","tPurple","tCyan","tBrown","tTan","tTeal","tMagenta","black"]},"legend":null}}}
 ]},
{"width":308,"height":148,"data":{"name":"E"},
 "encoding":{"x":{"field":"x","type":"quantitative","scale":{"domain":[25,-15],"nice":false,"zero":false},"axis":{"values":[20,10,0,-10],"labelExpr":"''+datum.value","title":"¹H ( ppm)"}}},
 "layer":[
  {"mark":{"type":"rule","color":"#a5a5a5","strokeWidth":1},"encoding":{"y":{"datum":0,"type":"quantitative","scale":{"domain":[-9,139]},"axis":null}}},
  {"transform":[{"fold":["gray","maroon","green2","green","teal","purple"],"as":["s","v"]},{"filter":"isValid(datum.v)"}],"mark":{"type":"line","interpolate":"monotone","clip":true,"strokeWidth":1.5},"encoding":{"y":{"field":"v","type":"quantitative","scale":{"domain":[-9,139]},"axis":null},"color":{"field":"s","type":"nominal","scale":{"domain":["green","green2","purple","cyan","gray","teal","maroon","tGreen","tPurple","tCyan","tBrown","tTan","tTeal","tMagenta","black"]},"legend":null}}},
  {"mark":{"type":"line","interpolate":"monotone","clip":true,"strokeWidth":1.7,"color":"#2e4fbf","yOffset":-1},"encoding":{"y":{"field":"t","type":"quantitative","scale":{"domain":[-9,139]},"axis":null}}},
  {"mark":{"type":"line","interpolate":"monotone","clip":true,"strokeWidth":1.8,"color":"#ec2227"},"encoding":{"y":{"field":"t","type":"quantitative","scale":{"domain":[-9,139]},"axis":null}}},
  {"data":{"values":[{"x":6.3,"y":65.7,"x2":8.77,"y2":50,"c":"black"},{"x":1.4,"y":48,"x2":4.78,"y2":25.7,"c":"black"},{"x":-5.6,"y":42.3,"x2":-2.8,"y2":25.7,"c":"black"},{"x":-5.6,"y":42.3,"x2":-8.2,"y2":17.3,"c":"black"}]},"mark":{"type":"rule","strokeWidth":1.2},"encoding":{"y":{"field":"y","type":"quantitative","scale":{"domain":[-9,139]},"axis":null},"x2":{"field":"x2"},"y2":{"field":"y2"},"color":{"field":"c","type":"nominal","scale":{"domain":["green","green2","purple","cyan","gray","teal","maroon","tGreen","tPurple","tCyan","tBrown","tTan","tTeal","tMagenta","black"]},"legend":null}}},
  {"data":{"values":[{"x":14.94,"y":125,"t":"μ-OH","c":"tTeal"},{"x":4.6,"y":86,"t":"H₂O(E)","c":"tPurple"},{"x":1.1,"y":61,"t":"H₂O(L)","c":"tGreen"},{"x":-6.56,"y":53,"t":"-OH(E)","c":"tGreen"}]},"mark":{"type":"text","fontSize":15.5},"encoding":{"y":{"field":"y","type":"quantitative","scale":{"domain":[-9,139]},"axis":null},"text":{"field":"t"},"color":{"field":"c","type":"nominal","scale":{"domain":["green","green2","purple","cyan","gray","teal","maroon","tGreen","tPurple","tCyan","tBrown","tTan","tTeal","tMagenta","black"]},"legend":null}}},
  {"data":{"values":[{"x":3.05,"y":22,"t":"i","c":"tMagenta"}]},"mark":{"type":"text","fontSize":16,"fontStyle":"italic"},"encoding":{"y":{"field":"y","type":"quantitative","scale":{"domain":[-9,139]},"axis":null},"text":{"field":"t"},"color":{"field":"c","type":"nominal","scale":{"domain":["green","green2","purple","cyan","gray","teal","maroon","tGreen","tPurple","tCyan","tBrown","tTan","tTeal","tMagenta","black"]},"legend":null}}},
  {"data":{"values":[{"x":-11.5,"y":82,"t":"Li-U₂₄"}]},"mark":{"type":"text","fontSize":18.5,"align":"left","color":"#111"},"encoding":{"y":{"field":"y","type":"quantitative","scale":{"domain":[-9,139]},"axis":null},"text":{"field":"t"}}}
 ]},
{"width":303,"height":148,"data":{"name":"F"},
 "encoding":{"x":{"field":"x","type":"quantitative","scale":{"domain":[26,-13.5],"nice":false,"zero":false},"axis":{"values":[20,10,0,-10],"labelExpr":"''+datum.value","title":"¹H ( ppm)","titleX":165}}},
 "layer":[
  {"mark":{"type":"rule","color":"#a5a5a5","strokeWidth":1},"encoding":{"y":{"datum":0,"type":"quantitative","scale":{"domain":[-9,139]},"axis":null}}},
  {"transform":[{"fold":["green","teal","purple"],"as":["s","v"]},{"filter":"isValid(datum.v)"}],"mark":{"type":"line","interpolate":"monotone","clip":true,"strokeWidth":1.5},"encoding":{"y":{"field":"v","type":"quantitative","scale":{"domain":[-9,139]},"axis":null},"color":{"field":"s","type":"nominal","scale":{"domain":["green","green2","purple","cyan","gray","teal","maroon","tGreen","tPurple","tCyan","tBrown","tTan","tTeal","tMagenta","black"]},"legend":null}}},
  {"mark":{"type":"line","interpolate":"monotone","clip":true,"strokeWidth":1.7,"color":"#2e4fbf","yOffset":-1.3},"encoding":{"y":{"field":"t","type":"quantitative","scale":{"domain":[-9,139]},"axis":null}}},
  {"mark":{"type":"line","interpolate":"monotone","clip":true,"strokeWidth":1.8,"color":"#ec2227"},"encoding":{"y":{"field":"t","type":"quantitative","scale":{"domain":[-9,139]},"axis":null}}},
  {"data":{"values":[{"x":1.88,"y":119,"t":"H₂O(L)","c":"tPurple"},{"x":12.7,"y":55,"t":"μ-OH","c":"tTeal"}]},"mark":{"type":"text","fontSize":15.5},"encoding":{"y":{"field":"y","type":"quantitative","scale":{"domain":[-9,139]},"axis":null},"text":{"field":"t"},"color":{"field":"c","type":"nominal","scale":{"domain":["green","green2","purple","cyan","gray","teal","maroon","tGreen","tPurple","tCyan","tBrown","tTan","tTeal","tMagenta","black"]},"legend":null}}},
  {"data":{"values":[{"x":2.57,"y":35,"t":"i","c":"tGreen"}]},"mark":{"type":"text","fontSize":16,"fontStyle":"italic"},"encoding":{"y":{"field":"y","type":"quantitative","scale":{"domain":[-9,139]},"axis":null},"text":{"field":"t"},"color":{"field":"c","type":"nominal","scale":{"domain":["green","green2","purple","cyan","gray","teal","maroon","tGreen","tPurple","tCyan","tBrown","tTan","tTeal","tMagenta","black"]},"legend":null}}}
 ]}
]
}
